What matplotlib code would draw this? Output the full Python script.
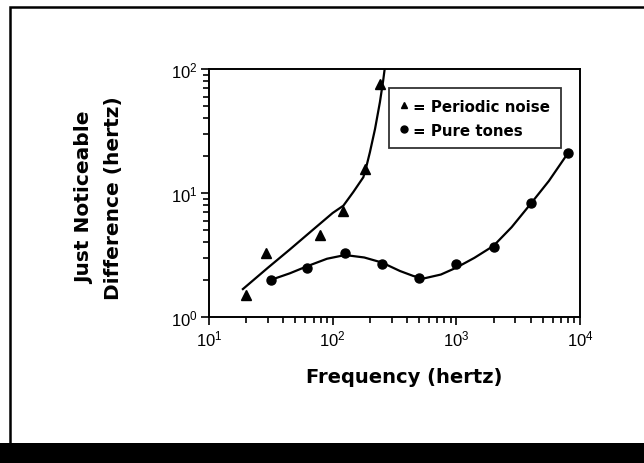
import numpy as np
import matplotlib
matplotlib.use("Agg")
import matplotlib.pyplot as plt
from matplotlib.patches import Rectangle
from matplotlib.lines import Line2D
from matplotlib.ticker import LogLocator

plt.rcParams['font.family'] = ['Liberation Sans', 'DejaVu Sans']
plt.rcParams['mathtext.fontset'] = 'custom'
plt.rcParams['mathtext.rm'] = 'Liberation Sans'

# Datos
noise_freq = [20, 29, 79, 121, 182, 240]
noise_jnd = [1.5, 3.3, 4.6, 7.2, 15.6, 75]

tone_freq = [32, 62.5, 125, 250, 500, 1000, 2000, 4000, 8000]
tone_jnd = [2.0, 2.5, 3.3, 2.7, 2.05, 2.7, 3.7, 8.3, 21]

# Curvas de ajuste dibujadas a mano
noise_fit_freq = [18.8, 30, 45, 70, 100, 122, 147, 177, 188, 200, 220, 241, 256, 263]
noise_fit_jnd = [1.68, 2.5, 3.5, 5.1, 6.9, 7.9, 10.2, 13.4, 16.6, 21.3, 32.8, 54, 80.5, 99]

tone_fit_freq = [32, 45, 63, 90, 126, 180, 250, 350, 450, 550, 750, 1000, 1400, 2000, 2800, 4000, 5600, 8000]
tone_fit_jnd = [2.0, 2.25, 2.58, 2.95, 3.16, 3.02, 2.75, 2.35, 2.14, 2.05, 2.2, 2.5, 3.0, 3.75, 5.3, 8.2, 12.5, 21]

heavy = ['DejaVu Sans']

fig = plt.figure(figsize=(6.44, 4.64), dpi=100)

# Marco exterior y banda negra inferior
fig.patches.append(Rectangle((10 / 644, 0), 640 / 644, (464 - 8) / 464,
                             transform=fig.transFigure, fill=False,
                             edgecolor='black', linewidth=1.8))
fig.patches.append(Rectangle((0, 0), 1, 20 / 464, transform=fig.transFigure,
                             facecolor='black', edgecolor='none'))

ax = fig.add_axes([209 / 644, 1 - 318 / 464, (580 - 209) / 644, (318 - 70) / 464])

ax.plot(noise_fit_freq, noise_fit_jnd, color='black', linewidth=1.6)
ax.plot(tone_fit_freq, tone_fit_jnd, color='black', linewidth=1.6)
ax.plot(noise_freq, noise_jnd, '^', color='black', markersize=6.5, linestyle='none')
ax.plot(tone_freq, tone_jnd, 'o', color='black', markersize=6.5, linestyle='none')

ax.set_xscale('log')
ax.set_yscale('log')
ax.set_xlim(10, 1e4)
ax.set_ylim(1, 100)

ax.xaxis.set_major_locator(LogLocator(base=10))
ax.yaxis.set_major_locator(LogLocator(base=10))
ax.xaxis.set_minor_locator(LogLocator(base=10, subs=np.arange(2, 10)))
ax.yaxis.set_minor_locator(LogLocator(base=10, subs=np.arange(2, 10)))
ax.tick_params(which='both', direction='out', top=False, right=False, width=1.2)
ax.tick_params(which='major', length=6, labelsize=12, pad=2)
ax.tick_params(which='minor', length=4)
for s in ax.spines.values():
    s.set_linewidth(1.4)

ax.set_xlabel("Frequency (hertz)", fontsize=14, fontweight='bold', family=heavy)
ax.xaxis.set_label_coords(0.527, -0.2)
fig.text(85 / 644, 0.574, "Just Noticeable", rotation=90, fontsize=14.5,
         fontweight='bold', family=heavy, ha='center', va='center')
fig.text(113 / 644, 0.574, "Difference (hertz)", rotation=90, fontsize=14.5,
         fontweight='bold', family=heavy, ha='center', va='center')

handles = [Line2D([], [], marker='^', color='black', linestyle='none', markersize=5),
           Line2D([], [], marker='o', color='black', linestyle='none', markersize=5)]
leg = ax.legend(handles, ["= Periodic noise", "= Pure tones"],
                loc='upper left', bbox_to_anchor=(0.465, 0.953),
                frameon=True, fancybox=False, edgecolor='black',
                handlelength=0.6, handletextpad=0.3, borderpad=0.7,
                labelspacing=0.6, prop={'family': heavy, 'weight': 'bold', 'size': 10.8})
leg.get_frame().set_linewidth(1.3)

fig.savefig("out.png", dpi=100)
